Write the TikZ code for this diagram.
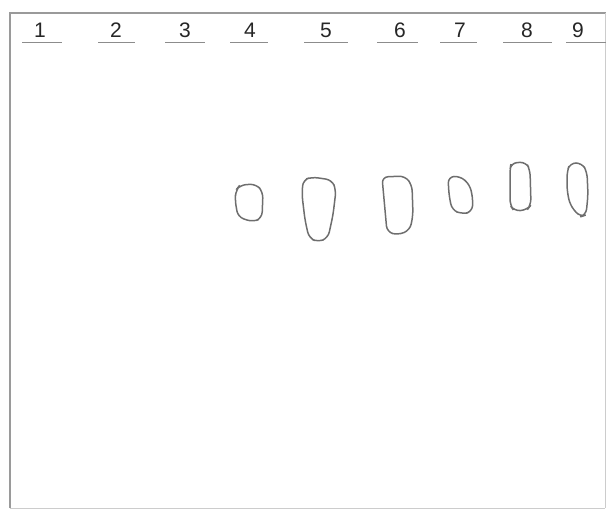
\documentclass[tikz,border=0pt]{standalone}
\usepackage{fontspec}
\setmainfont{Liberation Sans}
\definecolor{plate}{HTML}{9A9A9A}
\definecolor{pencil}{HTML}{6E6E6E}
\definecolor{rule}{HTML}{8C8C8C}

\begin{document}
\begin{tikzpicture}[x=1pt,y=-1pt,thick, every node/.style={font=\fontsize{21}{21}\selectfont, text=black!85}]
  \useasboundingbox (0,0) rectangle (607,511);
  % plate outline
  \draw[draw=plate,line width=1.2pt] (10,508)--(10,13)--(606,13);
  \draw[draw=plate!50,line width=0.8pt] (605,13)--(605,508);
  \draw[draw=plate!50,line width=0.8pt] (10,508)--(605,508);
  % lane numbers with start marks
  \foreach \n/\x/\a/\b in {1/40/22/62, 2/116/98/135, 3/185/165/205, 4/250/230/268, 5/326/304/348, 6/400/377/418, 7/460/440/477, 8/527/503/552, 9/578/566/606} {
    \node (n\n) at (\x,30) {\n};
    \draw[draw=rule,line width=0.9pt] (\a,42)--(\b,42);
  }
  % spots
  \tikzset{spot/.style={draw=pencil,line width=1.5pt,rounded corners=6pt}}
  \draw[spot] (240,185)--(256,184)--(263,192)--(262,218)--(253,222)--(238,217)--(235,200)--(236,190)--cycle;
  \draw[spot] (303,180)--(312,177)--(332,180)--(336,190)--(333,215)--(328,238)--(318,242)--(309,238)--(305,220)--(302,195)--cycle;
  \draw[spot] (382,177)--(405,176)--(412,185)--(413,215)--(410,230)--(398,235)--(387,232)--(385,210)--cycle;
  \draw[spot] (448,177)--(460,176)--(470,185)--(473,200)--(472,212)--(462,214)--(452,210)--(449,195)--cycle;
  \draw[spot] (511,163)--(526,162)--(530,170)--(531,205)--(527,210)--(514,211)--(510,205)--(510,170)--cycle;
  \draw[spot] (570,163)--(582,163)--(587,172)--(588,195)--(586,215)--(580,217)--(570,205)--(567,190)--(567,172)--cycle;
\end{tikzpicture}
\end{document}
